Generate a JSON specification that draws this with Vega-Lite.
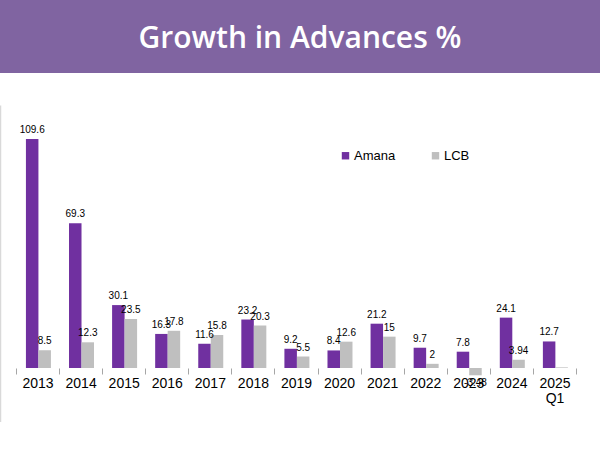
{
  "$schema": "https://vega.github.io/schema/vega-lite/v6.json",
  "padding": 0,
  "background": "white",
  "spacing": 32,
  "config": {"view": {"stroke": null}, "font": "Liberation Sans"},
  "vconcat": [
    {
      "width": 600,
      "height": 73,
      "view": {"fill": "#8064A1", "stroke": null},
      "data": {"values": [{"title": "Growth in Advances %"}]},
      "mark": {"type": "text", "font": "Open Sans", "fontWeight": 600, "fontSize": 30, "color": "white", "baseline": "alphabetic", "dy": 11, "align": "center"},
      "encoding": {"text": {"field": "title"}}
    },
    {
      "width": 600,
      "height": 317,
      "data": {
        "values": [
          {"year": "2013", "bank": "Amana", "value": 109.6, "label": "109.6"},
          {"year": "2013", "bank": "LCB", "value": 8.5, "label": "8.5"},
          {"year": "2014", "bank": "Amana", "value": 69.3, "label": "69.3"},
          {"year": "2014", "bank": "LCB", "value": 12.3, "label": "12.3"},
          {"year": "2015", "bank": "Amana", "value": 30.1, "label": "30.1"},
          {"year": "2015", "bank": "LCB", "value": 23.5, "label": "23.5"},
          {"year": "2016", "bank": "Amana", "value": 16.3, "label": "16.3"},
          {"year": "2016", "bank": "LCB", "value": 17.8, "label": "17.8"},
          {"year": "2017", "bank": "Amana", "value": 11.6, "label": "11.6"},
          {"year": "2017", "bank": "LCB", "value": 15.8, "label": "15.8"},
          {"year": "2018", "bank": "Amana", "value": 23.2, "label": "23.2"},
          {"year": "2018", "bank": "LCB", "value": 20.3, "label": "20.3"},
          {"year": "2019", "bank": "Amana", "value": 9.2, "label": "9.2"},
          {"year": "2019", "bank": "LCB", "value": 5.5, "label": "5.5"},
          {"year": "2020", "bank": "Amana", "value": 8.4, "label": "8.4"},
          {"year": "2020", "bank": "LCB", "value": 12.6, "label": "12.6"},
          {"year": "2021", "bank": "Amana", "value": 21.2, "label": "21.2"},
          {"year": "2021", "bank": "LCB", "value": 15, "label": "15"},
          {"year": "2022", "bank": "Amana", "value": 9.7, "label": "9.7"},
          {"year": "2022", "bank": "LCB", "value": 2, "label": "2"},
          {"year": "2023", "bank": "Amana", "value": 7.8, "label": "7.8"},
          {"year": "2023", "bank": "LCB", "value": -3.48, "label": "-3.48"},
          {"year": "2024", "bank": "Amana", "value": 24.1, "label": "24.1"},
          {"year": "2024", "bank": "LCB", "value": 3.94, "label": "3.94"},
          {"year": "2025|Q1", "bank": "Amana", "value": 12.7, "label": "12.7"},
          {"year": "2025|Q1", "bank": "LCB", "value": 0.3, "label": ""}
        ]
      },
      "encoding": {
        "x": {
          "field": "year", "type": "nominal", "sort": null,
          "scale": {"paddingInner": 0, "paddingOuter": 0.464, "align": 0.4},
          "axis": {
            "title": null, "orient": "bottom", "offset": -54, "domain": false,
            "tickBand": "extent", "tickSize": 6, "tickColor": "#A6A6A6", "tickWidth": 1,
            "labelAngle": 0, "labelFontSize": 14, "labelColor": "#000000", "labelPadding": 2,
            "labelLineHeight": 15,
            "labelExpr": "split(datum.label, '|')"
          }
        },
        "xOffset": {
          "field": "bank", "type": "nominal",
          "scale": {"domain": ["Amana", "LCB"], "paddingInner": 0, "paddingOuter": 0.723, "align": 0.55}
        },
        "y": {
          "field": "value", "type": "quantitative",
          "scale": {"domain": [-25.84, 125.84], "nice": false, "zero": false},
          "axis": {"title": null, "labels": false, "ticks": false, "grid": false, "domain": true, "domainColor": "#D9D9D9", "domainWidth": 1.5}
        }
      },
      "layer": [
        {
          "mark": {"type": "bar"},
          "encoding": {
            "y2": {"datum": 0},
            "color": {
              "field": "bank", "type": "nominal",
              "scale": {"domain": ["Amana", "LCB"], "range": ["#7030A0", "#BFBFBF"]},
              "legend": {
                "title": null, "orient": "none", "direction": "horizontal",
                "legendX": 339, "legendY": 149, "padding": 0,
                "symbolType": "square", "symbolSize": 55, "symbolStrokeWidth": 0,
                "labelFontSize": 13, "labelColor": "#000000", "labelOffset": 2,
                "columnPadding": 33
              }
            }
          }
        },
        {
          "transform": [{"filter": "datum.value >= 0"}],
          "mark": {"type": "text", "fontSize": 10, "color": "#000000", "baseline": "alphabetic", "dy": -6},
          "encoding": {"text": {"field": "label"}}
        },
        {
          "transform": [{"filter": "datum.value < 0"}],
          "mark": {"type": "text", "fontSize": 10, "color": "#000000", "baseline": "top", "dy": 3},
          "encoding": {"text": {"field": "label"}}
        }
      ]
    }
  ]
}
